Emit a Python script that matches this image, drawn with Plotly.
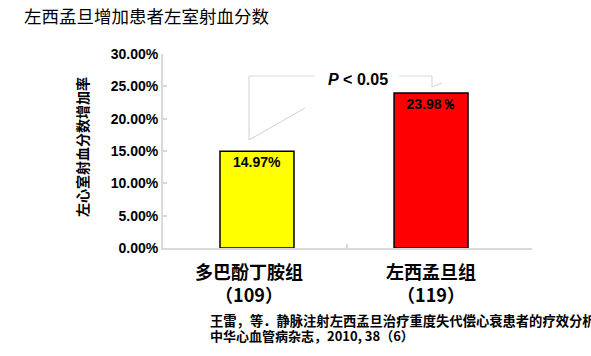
import plotly.graph_objects as go

# Data
categories = ["多巴酚丁胺组", "左西孟旦组"]
sample_sizes = ["（109）", "（119）"]
values = [0.1497, 0.2398]
value_labels = ["14.97%", "23.98％"]
bar_colors = ["#ffff00", "#ff0000"]
y_ticks = [0, 0.05, 0.10, 0.15, 0.20, 0.25, 0.30]

title_text = "左西孟旦增加患者左室射血分数"
y_title = "左心室射血分数增加率"
p_text = "<i>P</i> < 0.05"
ref_line1 = "王雷，等．静脉注射左西孟旦治疗重度失代偿心衰患者的疗效分析"
ref_line2 = "中华心血管病杂志，2010, 38（6）"

W, H = 591, 356
L, R, T, B = 163, 59, 54, 108
pw, ph = W - L - R, H - T - B

x_pos = list(range(len(categories)))
x_range = [-0.54, 1.58]

CJK = "Noto Sans CJK SC"
ARIAL = "Liberation Sans, Arial"
GRAY = "#d9d9d9"

fig = go.Figure()
fig.add_trace(go.Bar(
    x=x_pos, y=values, width=0.425,
    marker=dict(color=bar_colors, line=dict(color="black", width=1.5)),
    text=value_labels, textposition="inside", insidetextanchor="end",
    textangle=0, constraintext="none",
    textfont=dict(family=ARIAL, size=14, color="black", weight="bold"),
    hoverinfo="skip",
))

def px2x(px):
    return x_range[0] + (px - L) / pw * (x_range[1] - x_range[0])

def py2y(py):
    return (T + ph - py) / ph * 0.30

def py2p(py):
    return (T + ph - py) / ph

shapes = []
def seg(x0, y0, x1, y1):
    shapes.append(dict(type="line", xref="x", yref="y",
                       x0=px2x(x0), y0=py2y(y0), x1=px2x(x1), y1=py2y(y1),
                       line=dict(color=GRAY, width=1.2)))

# P-value callout lines
seg(249, 140, 249, 76)
seg(249, 140, 305, 108)
seg(249, 76, 315, 76)
seg(399, 76, 432, 76)
seg(432, 76, 432, 87)
seg(432, 87, 442, 83)

annotations = []
annotations.append(dict(text=p_text, xref="x", yref="y", x=px2x(358), y=py2y(79),
                        yanchor="middle",
                        showarrow=False, font=dict(family=ARIAL, size=16, color="black", weight="bold")))

shifts = [-8, 0]
for i, (c, n) in enumerate(zip(categories, sample_sizes)):
    annotations.append(dict(text=f"<b>{c}</b><br><b>{n}</b>", xref="x", yref="paper",
                            x=x_pos[i], xshift=shifts[i], y=py2p(256), yanchor="top",
                            showarrow=False, align="center",
                            font=dict(family=CJK, size=18, color="black")))

annotations.append(dict(text=f"<b>{y_title}</b>", xref="paper", yref="paper",
                        x=(82 - L) / pw, y=py2p(147), textangle=-90,
                        xanchor="center", yanchor="middle",
                        showarrow=False, font=dict(family=CJK, size=14, color="black")))

annotations.append(dict(text=title_text, xref="paper", yref="paper",
                        x=(22 - L) / pw, y=py2p(15), xanchor="left", yanchor="middle",
                        showarrow=False, font=dict(family=CJK, size=17.5, color="black")))

annotations.append(dict(text=f"<b>{ref_line1}</b>", xref="paper", yref="paper",
                        x=(208 - L) / pw, y=py2p(320), xanchor="left", yanchor="middle",
                        showarrow=False, font=dict(family=CJK, size=13.3, color="black")))
annotations.append(dict(text=f"<b>{ref_line2}</b>", xref="paper", yref="paper",
                        x=(208 - L) / pw, y=py2p(335), xanchor="left", yanchor="middle",
                        showarrow=False, font=dict(family=CJK, size=13, color="black")))

fig.update_layout(
    width=W, height=H,
    margin=dict(l=L, r=R, t=T, b=B, pad=0),
    paper_bgcolor="white", plot_bgcolor="white",
    showlegend=False,
    shapes=shapes, annotations=annotations,
    xaxis=dict(range=x_range, showgrid=False, zeroline=False,
               showline=True, linecolor=GRAY, linewidth=2,
               tickvals=[px2x(347), x_range[1]], ticks="inside", ticklen=4,
               tickcolor=GRAY, tickwidth=2, showticklabels=False),
    yaxis=dict(range=[0, 0.30], tickvals=y_ticks, tickformat=".2%",
               showgrid=False, zeroline=False,
               showline=True, linecolor=GRAY, linewidth=2,
               ticks="inside", ticklen=4, tickcolor=GRAY, tickwidth=2,
               tickfont=dict(family=ARIAL, size=14, color="black", weight="bold")),
)

fig.write_html("out.html")
